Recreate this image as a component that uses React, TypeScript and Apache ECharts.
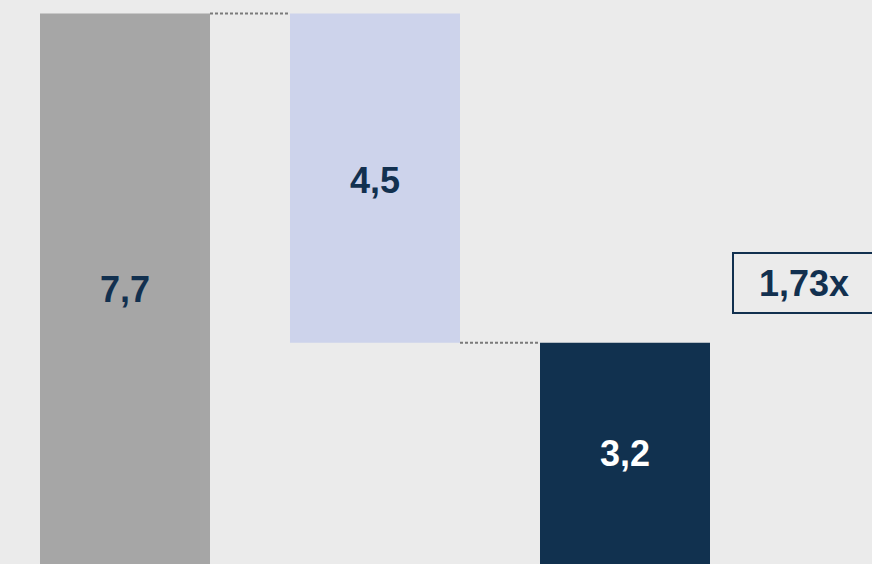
import React, { useEffect, useRef } from "react";
import * as echarts from "echarts";

const categories = ["Gesamt", "Differenz", "Rest"];
const baseValues = [0, 3.2, 0];
const barValues = [7.7, 4.5, 3.2];
const barColors = ["#a6a6a6", "#cdd3eb", "#11314f"];
const labelColors = ["#12304f", "#12304f", "#ffffff"];
const connectorLevels = [7.7, 3.2];
const ratioLabel = "1,73x";

const FONT = "Arial, 'Liberation Sans', sans-serif";
const BAR_FRACTION = 0.68;

export default function App() {
  const ref = useRef<HTMLDivElement>(null);
  useEffect(() => {
    if (!ref.current) return;
    const chart = echarts.init(ref.current, null, { renderer: "svg" });
    chart.setOption({
      animation: false,
      backgroundColor: "#ebebeb",
      grid: { left: 0, right: 122, top: 13.5, bottom: 0 },
      xAxis: { type: "category", data: categories, show: false },
      yAxis: { type: "value", min: 0, max: 7.7, show: false },
      series: [
        {
          type: "bar",
          stack: "w",
          data: baseValues,
          itemStyle: { color: "transparent" },
          barWidth: BAR_FRACTION * 100 + "%",
          silent: true,
        },
        {
          type: "bar",
          stack: "w",
          barWidth: BAR_FRACTION * 100 + "%",
          data: barValues.map((v, i) => ({
            value: v,
            itemStyle: { color: barColors[i] },
            label: {
              color: labelColors[i],
              offset: baseValues[i] === 0 ? [0, -6] : [0, 2],
            },
          })),
          label: {
            show: true,
            position: "inside",
            fontSize: 36,
            fontWeight: "bold",
            fontFamily: FONT,
            formatter: (p: any) => Number(p.value).toFixed(1).replace(".", ","),
          },
        },
        {
          type: "custom",
          data: connectorLevels.map((v, i) => [i, v]),
          z: 5,
          renderItem: (params: any, api: any) => {
            const i = api.value(0);
            const v = api.value(1);
            const p1 = api.coord([i, v]);
            const p2 = api.coord([i + 1, v]);
            const band = api.size([1, 0])[0];
            const half = (band * BAR_FRACTION) / 2;
            return {
              type: "line",
              shape: { x1: p1[0] + half, y1: p1[1], x2: p2[0] - half, y2: p2[1] },
              style: { stroke: "#7a7a7a", lineWidth: 2, lineDash: [3, 2] },
            };
          },
        },
      ],
      graphic: [
        {
          type: "rect",
          shape: { x: 733, y: 253, width: 150, height: 60 },
          style: { fill: "none", stroke: "#12304f", lineWidth: 2 },
        },
        {
          type: "text",
          x: 804,
          y: 283,
          style: {
            text: ratioLabel,
            fontSize: 36,
            fontWeight: "bold",
            fontFamily: FONT,
            fill: "#12304f",
            align: "center",
            verticalAlign: "middle",
          },
        },
      ],
    });
    return () => chart.dispose();
  }, []);
  return (
    <div
      style={{
        position: "fixed",
        left: 0,
        top: 0,
        width: 872,
        height: 564,
        overflow: "hidden",
        background: "#ebebeb",
      }}
    >
      <div ref={ref} style={{ width: 872, height: 577 }} />
    </div>
  );
}
